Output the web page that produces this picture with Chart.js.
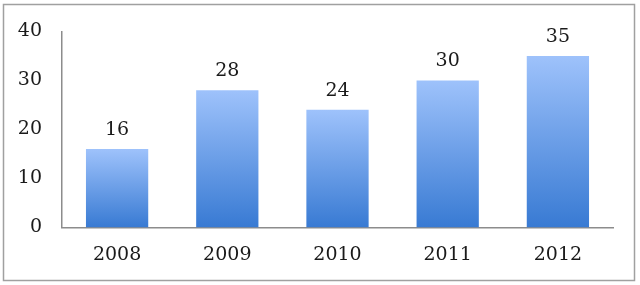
<!DOCTYPE html>
<html>
<head>
<meta charset="utf-8">
<script src="https://cdn.jsdelivr.net/npm/chart.js@4"></script>
<style>
  html, body { margin: 0; padding: 0; background: #fff; }
  #wrap { width: 640px; height: 285px; position: relative; }
</style>
</head>
<body>
<div id="wrap"><canvas id="yearChart"></canvas></div>
<script>
const years = ["2008", "2009", "2010", "2011", "2012"];
const values = [16, 28, 24, 30, 35];
const yTicks = [0, 10, 20, 30, 40];

const FONT = "'DejaVu Serif', serif";

// gradient per bar: light at the top, darker at the base
function barGradient(ctx) {
  const chart = ctx.chart;
  const y = chart.scales.y;
  if (!chart.chartArea || !y) return "#6a9ee8";
  const top = y.getPixelForValue(values[ctx.dataIndex]);
  const base = y.getPixelForValue(0);
  const g = chart.ctx.createLinearGradient(0, top, 0, base);
  g.addColorStop(0, "#9ec2fb");
  g.addColorStop(1, "#387ad3");
  return g;
}

const frame = {
  id: "frame",
  beforeDraw(chart) {
    const c = chart.ctx;
    c.save();
    c.fillStyle = "#fff";
    c.fillRect(0, 0, chart.width, chart.height);
    c.strokeStyle = "#a0a0a0";
    c.lineWidth = 1.5;
    c.strokeRect(3.5, 4.5, 631, 276);
    c.restore();
  }
};

const valueLabels = {
  id: "valueLabels",
  afterDatasetsDraw(chart) {
    const c = chart.ctx;
    const meta = chart.getDatasetMeta(0);
    c.save();
    c.font = "19px " + FONT;
    c.fillStyle = "#1a1a1a";
    c.textAlign = "center";
    c.textBaseline = "alphabetic";
    meta.data.forEach((bar, i) => {
      c.fillText(String(values[i]), bar.x, bar.y - 14);
    });
    c.restore();
  }
};

new Chart(document.getElementById("yearChart"), {
  type: "bar",
  data: {
    labels: years,
    datasets: [{
      data: values,
      backgroundColor: barGradient,
      borderWidth: 0,
      categoryPercentage: 1,
      barPercentage: 0.565,
    }],
  },
  options: {
    responsive: true,
    maintainAspectRatio: false,
    animation: false,
    events: [],
    layout: { padding: { top: 28, right: 27, left: 0, bottom: 0 } },
    plugins: { legend: { display: false }, tooltip: { enabled: false } },
    scales: {
      x: {
        grid: { display: false, drawTicks: false },
        border: { color: "#8c8c8c", width: 1.5 },
        ticks: { font: { family: FONT, size: 19 }, color: "#1a1a1a", padding: 16 },
        afterFit(s) { s.height = 57.5; },
      },
      y: {
        min: 0,
        max: 40,
        afterBuildTicks(s) { s.ticks = yTicks.map(v => ({ value: v })); },
        grid: { display: false, drawTicks: false },
        border: { color: "#8c8c8c", width: 1.5 },
        ticks: { font: { family: FONT, size: 19 }, color: "#1a1a1a", padding: 20 },
        afterFit(s) { s.width = 62; },
      },
    },
  },
  plugins: [frame, valueLabels],
});
</script>
</body>
</html>
